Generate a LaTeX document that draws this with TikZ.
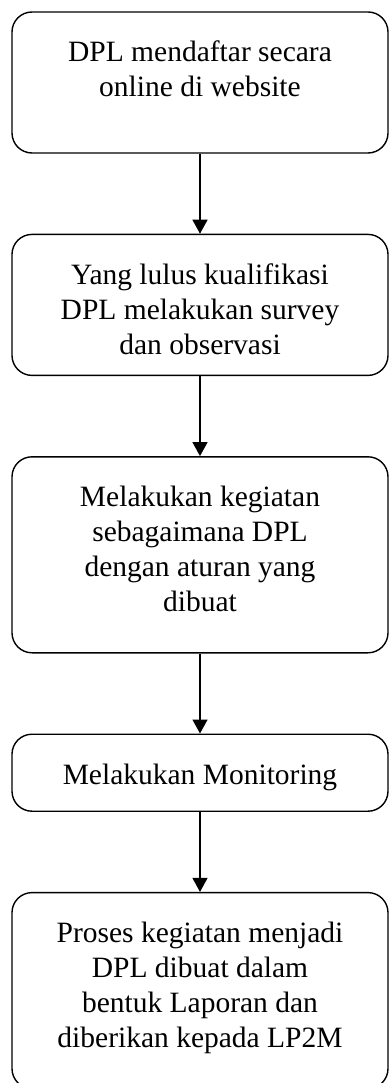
\documentclass[tikz,border=0pt]{standalone}
\usepackage{fontspec}
\setmainfont{Liberation Serif}
\usetikzlibrary{arrows.meta, positioning}
\tikzset{
  every picture/.style={line width=1.4pt},
  flowbox/.style={draw, rounded corners=20pt, inner sep=0pt, minimum width=376pt, font=\fontsize{29.5pt}{35pt}\selectfont},
  arrow/.style={-{Triangle[length=14pt, width=15pt]}},
}
% text sits at the top of each box
\newcommand{\boxtext}[2]{\parbox[c][#1][t]{370pt}{\centering\rule{0pt}{50pt}#2}}

\begin{document}
\begin{tikzpicture}[node distance=80pt]
  \useasboundingbox (0,0) rectangle (389pt,-1083pt);
  \node[flowbox] (daftar) at (200pt,-82.5pt) {\boxtext{141pt}{DPL mendaftar secara\\ online di website}};
  \node[flowbox, below=of daftar] (survey) {\boxtext{141pt}{Yang lulus kualifikasi\\ DPL melakukan survey\\ dan observasi}};
  \node[flowbox, below=of survey] (kegiatan) {\boxtext{196pt}{Melakukan kegiatan\\ sebagaimana DPL\\ dengan aturan yang\\ dibuat}};
  \node[flowbox, below=of kegiatan] (monitor) {\boxtext{77pt}{Melakukan Monitoring}};
  \node[flowbox, below=of monitor] (laporan) {\boxtext{196pt}{Proses kegiatan menjadi\\ DPL dibuat dalam\\ bentuk Laporan dan\\ diberikan kepada LP2M}};
  \draw[arrow] (daftar) -- (survey);
  \draw[arrow] (survey) -- (kegiatan);
  \draw[arrow] (kegiatan) -- (monitor);
  \draw[arrow] (monitor) -- (laporan);
\end{tikzpicture}
\end{document}
